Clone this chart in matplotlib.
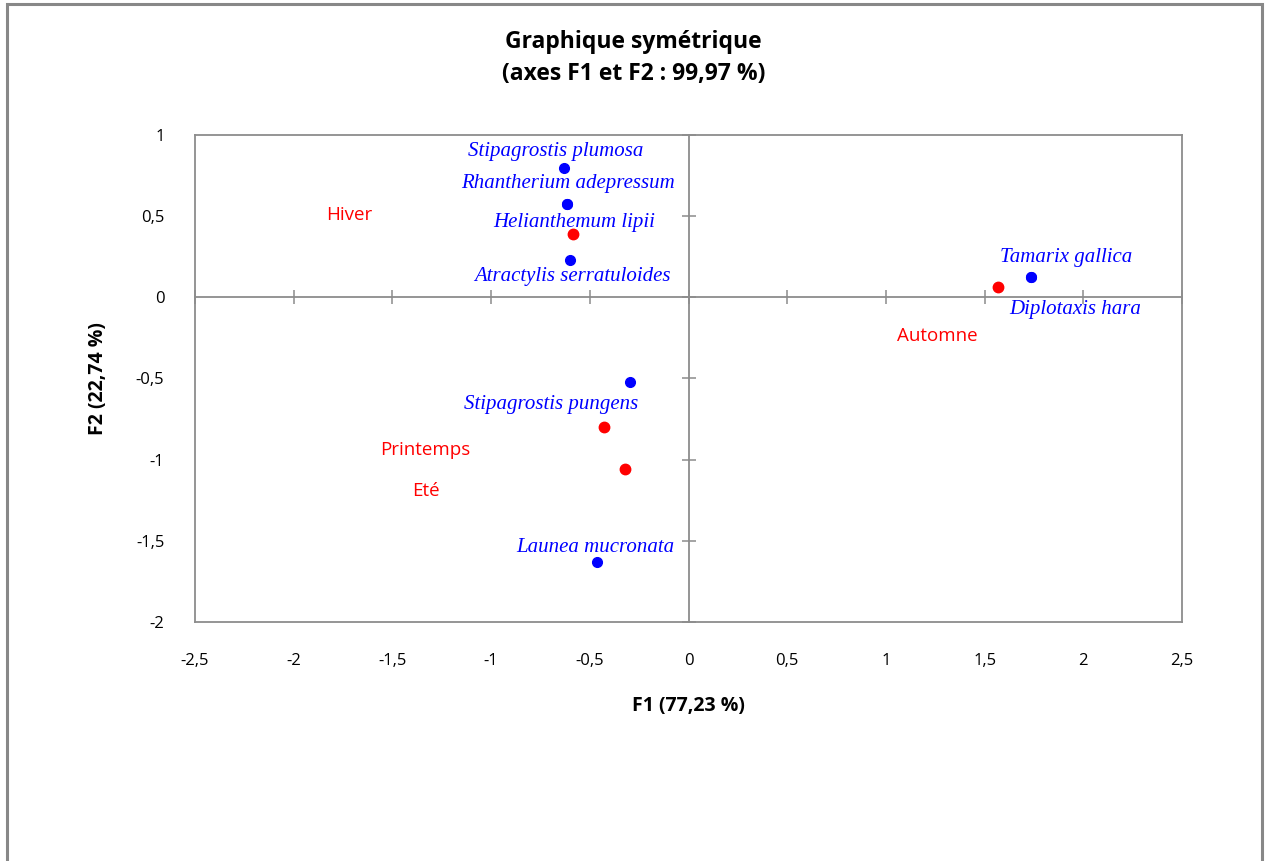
import matplotlib
matplotlib.use("Agg")
import matplotlib.pyplot as plt
from matplotlib.patches import Rectangle

# ---- data ----
species = ["Stipagrostis plumosa", "Rhantherium adepressum", "Helianthemum lipii",
           "Atractylis serratuloides", "Tamarix gallica", "Diplotaxis hara",
           "Stipagrostis pungens", "Launea mucronata"]
species_f1 = [-0.633, -0.618, -0.618, -0.598, 1.733, 1.733, -0.294, -0.461]
species_f2 = [0.795, 0.573, 0.573, 0.228, 0.123, 0.123, -0.524, -1.633]
species_lab_f1 = [-0.674, -0.613, -0.578, -0.588, 1.915, 1.960, -0.694, -0.471]
species_lab_f2 = [0.900, 0.702, 0.462, 0.129, 0.246, -0.074, -0.659, -1.540]

seasons = ["Hiver", "Automne", "Printemps", "Eté"]
season_f1 = [-0.583, 1.570, -0.426, -0.324]
season_f2 = [0.388, 0.062, -0.801, -1.060]
season_lab_f1 = [-1.717, 1.261, -1.332, -1.332]
season_lab_f2 = [0.505, -0.240, -0.943, -1.195]

xticks = [-2.5, -2, -1.5, -1, -0.5, 0, 0.5, 1, 1.5, 2, 2.5]
yticks = [-2, -1.5, -1, -0.5, 0, 0.5, 1]

title = "Graphique symétrique\n(axes F1 et F2 : 99,97 %)"
xlabel = "F1 (77,23 %)"
ylabel = "F2 (22,74 %)"

def fmt(v):
    return ("%g" % v).replace(".", ",")

GRAY = "#8c8c8c"
SANS = ["Open Sans", "DejaVu Sans"]
SERIF = ["Liberation Serif", "DejaVu Serif"]

fig = plt.figure(figsize=(12.67, 8.61), dpi=100)
pos = [195/1267, 1-622/861, (1182-195)/1267, (622-135)/861]
ax = fig.add_axes(pos)
ax.set_xlim(-2.5, 2.5)
ax.set_ylim(-2, 1)
for s in ax.spines.values():
    s.set_color(GRAY)
    s.set_linewidth(1.3)
ax.set_xticks(xticks)
ax.set_yticks(yticks)
ax.set_xticklabels([fmt(v) for v in xticks], family=SANS, fontsize=12)
ax.set_yticklabels([fmt(v) for v in yticks], family=SANS, fontsize=12)
ax.tick_params(length=0, colors="black")
ax.tick_params(axis="x", pad=22)
ax.tick_params(axis="y", pad=22)
ax.set_xlabel(xlabel, family=SANS, fontsize=14, fontweight="bold", labelpad=20)
ax.set_ylabel(ylabel, family=SANS, fontsize=14, fontweight="bold", labelpad=20)

# central axes with crossing ticks
ax2 = fig.add_axes(pos)
ax2.set_xlim(-2.5, 2.5)
ax2.set_ylim(-2, 1)
ax2.patch.set_alpha(0)
ax2.spines["left"].set_position(("data", 0))
ax2.spines["bottom"].set_position(("data", 0))
ax2.spines["top"].set_visible(False)
ax2.spines["right"].set_visible(False)
for k in ("left", "bottom"):
    ax2.spines[k].set_color(GRAY)
    ax2.spines[k].set_linewidth(1.3)
ax2.set_xticks(xticks)
ax2.set_yticks(yticks)
ax2.tick_params(direction="inout", length=10, width=1.1, color=GRAY,
                labelbottom=False, labelleft=False)

# points
ax2.plot(species_f1, species_f2, "o", color="#0000ff", ms=7, ls="none", zorder=3)
ax2.plot(season_f1, season_f2, "o", color="#ff0000", ms=7.5, ls="none", zorder=3)

for name, x, y in zip(species, species_lab_f1, species_lab_f2):
    ax2.text(x, y, name, color="#0000ff", family=SERIF, style="italic",
             fontsize=15, ha="center", va="center")
for name, x, y in zip(seasons, season_lab_f1, season_lab_f2):
    ax2.text(x, y, name, color="#ff0000", family=SANS, fontsize=13.5,
             ha="center", va="center")

fig.text(0.5, 1-58/861, title, ha="center", va="center", family=SANS,
         fontsize=16.5, fontweight="bold", linespacing=1.4)

fig.patches.append(Rectangle((7/1267, -0.05), (1262-7)/1267, 1.05 - 4/861,
                             transform=fig.transFigure, fill=False,
                             edgecolor="#888888", linewidth=2.2))

fig.savefig("out.png", dpi=100)
